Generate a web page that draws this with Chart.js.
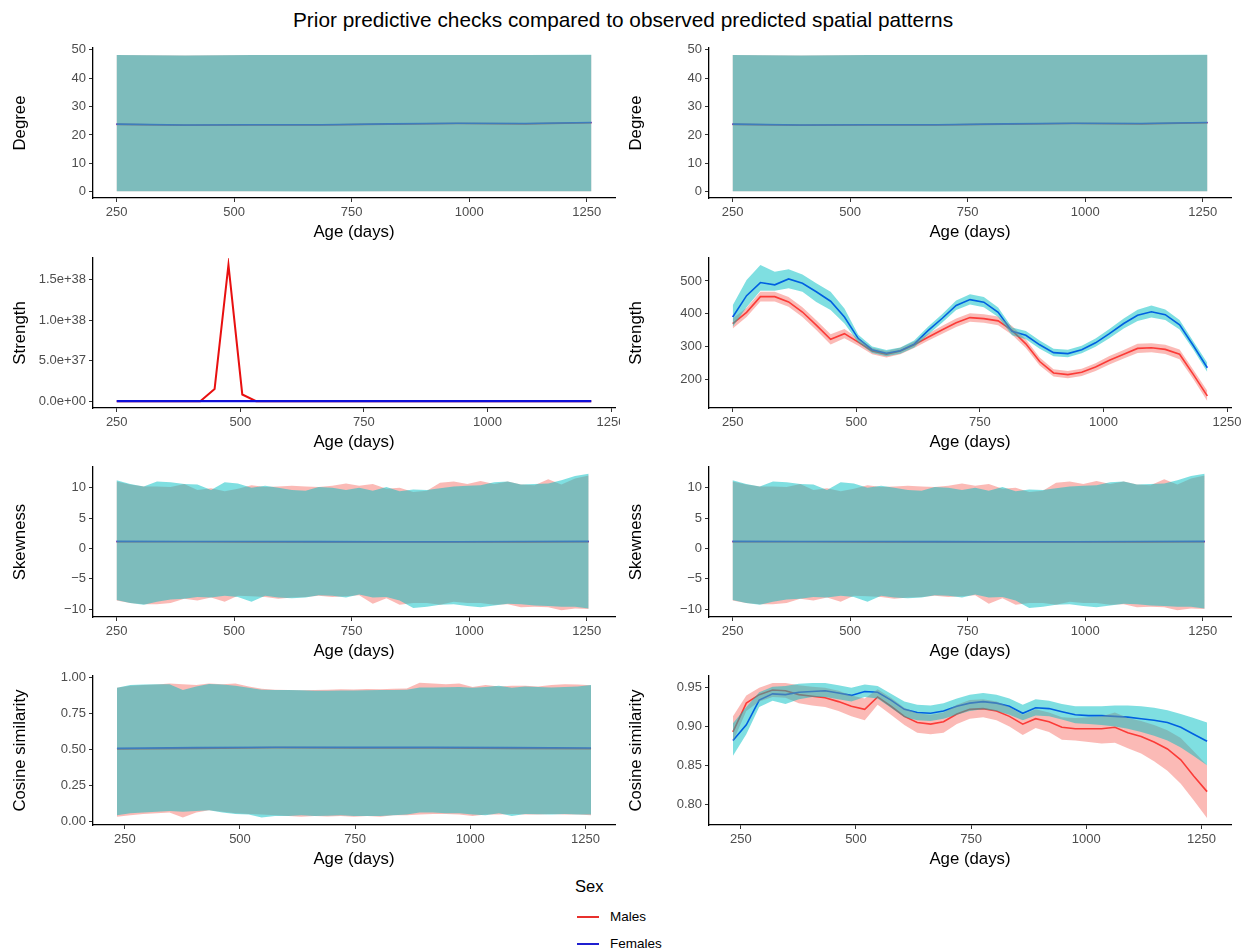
<!DOCTYPE html>
<html>
<head>
<meta charset="utf-8">
<script src="https://cdn.jsdelivr.net/npm/chart.js@4.4.1/dist/chart.umd.min.js"></script>
<style>
  body { margin: 0; background: #fff; width: 1246px; height: 951px; position: relative; overflow: hidden;
         font-family: "Liberation Sans", Arial, sans-serif; }
  canvas { position: absolute; }
  #title { position: absolute; top: 8px; left: 0; width: 1246px; text-align: center; font-size: 20.8px; color: #000; }
  .leg { position: absolute; color: #000; }
  .key { position: absolute; height: 2px; width: 22px; }
</style>
</head>
<body>
<div id="title">Prior predictive checks compared to observed predicted spatial patterns</div>

<canvas id="degPrior"></canvas>
<canvas id="degObs"></canvas>
<canvas id="strPrior"></canvas>
<canvas id="strObs"></canvas>
<canvas id="skPrior"></canvas>
<canvas id="skObs"></canvas>
<canvas id="cosPrior"></canvas>
<canvas id="cosObs"></canvas>

<div class="leg" style="left:575px;top:877px;font-size:16.5px">Sex</div>
<div class="key" style="left:577px;top:916px;background:#e8302c"></div>
<div class="leg" style="left:610px;top:909px;font-size:13.5px">Males</div>
<div class="key" style="left:577px;top:943px;background:#1f1fd0"></div>
<div class="leg" style="left:610px;top:936px;font-size:13.5px">Females</div>

<script>
// ---- axis ticks ----
const ageTicks = [250, 500, 750, 1000, 1250]
const ageLabels = ['250', '500', '750', '1000', '1250']
const degTicks = [0, 10, 20, 30, 40, 50]
const degLabels = ['0', '10', '20', '30', '40', '50']
const strPriorTicks = [0, 5e37, 1e38, 1.5e38]
const strPriorLabels = ['0.0e+00', '5.0e+37', '1.0e+38', '1.5e+38']
const strObsTicks = [200, 300, 400, 500]
const strObsLabels = ['200', '300', '400', '500']
const skTicks = [-10, -5, 0, 5, 10]
const skLabels = ['\u221210', '\u22125', '0', '5', '10']
const cosPriorTicks = [0, 0.25, 0.5, 0.75, 1]
const cosPriorLabels = ['0.00', '0.25', '0.50', '0.75', '1.00']
const cosObsTicks = [0.8, 0.85, 0.9, 0.95]
const cosObsLabels = ['0.80', '0.85', '0.90', '0.95']

// ---- degree (same in both columns) ----
const degX = [250, 395, 540, 685, 830, 975, 1120, 1260]
const degMale = [23.7, 23.4, 23.5, 23.5, 23.8, 24.0, 23.9, 24.3]
const degFem = [23.8, 23.5, 23.6, 23.6, 23.9, 24.1, 24.0, 24.4]
const degMaleLo = [0.2, 0.2, 0.2, 0.2, 0.2, 0.2, 0.2, 0.2]
const degMaleHi = [48.1, 48.0, 48.1, 48.1, 48.1, 48.1, 48.1, 48.1]
const degFemLo = [0.2, 0.2, 0.2, 0.1, 0.2, 0.2, 0.2, 0.2]
const degFemHi = [48.1, 48.0, 48.1, 48.1, 48.1, 48.1, 48.1, 48.2]

// ---- strength ----
const strX = [250, 278, 306, 335, 363, 391, 419, 448, 476, 504, 532, 561, 589, 617, 645, 674, 702, 730,
  758, 787, 815, 843, 871, 899, 928, 956, 984, 1012, 1041, 1069, 1097, 1125, 1154, 1182, 1210]
const strPriorMale = [0, 0, 0, 0, 0, 0, 0, 1.52e37, 1.684e38, 8.3e36, 0, 0, 0, 0, 0, 0, 0, 0,
  0, 0, 0, 0, 0, 0, 0, 0, 0, 0, 0, 0, 0, 0, 0, 0, 0]
const strPriorFem = [0, 0, 0, 0, 0, 0, 0, 0, 0, 0, 0, 0, 0, 0, 0, 0, 0, 0,
  0, 0, 0, 0, 0, 0, 0, 0, 0, 0, 0, 0, 0, 0, 0, 0, 0]
const strFem = [390, 455, 495, 488, 506, 493, 467, 438, 390, 324, 290, 279, 287, 307, 348, 386, 425, 443,
  435, 404, 346, 334, 305, 281, 278, 290, 311, 339, 370, 395, 406, 397, 366, 302, 235]
const strFemLo = [360, 420, 470, 470, 478, 467, 436, 411, 370, 312, 280, 270, 278, 297, 336, 373, 411, 428,
  420, 390, 334, 322, 293, 270, 267, 279, 299, 325, 355, 378, 388, 381, 352, 290, 222]
const strFemHi = [426, 503, 549, 528, 536, 520, 493, 467, 416, 336, 300, 289, 297, 318, 360, 399, 440, 459,
  451, 419, 358, 347, 318, 293, 290, 302, 324, 353, 385, 412, 425, 413, 381, 315, 250]
const strMale = [370, 404, 452, 452, 436, 405, 365, 322, 339, 313, 286, 276, 286, 305, 328, 351, 372, 388,
  385, 378, 349, 308, 254, 219, 214, 221, 237, 258, 276, 294, 296, 291, 276, 214, 149]
const strMaleLo = [355, 390, 437, 437, 421, 390, 350, 306, 325, 302, 276, 266, 276, 295, 317, 339, 359, 375,
  372, 365, 336, 295, 242, 208, 203, 210, 225, 245, 263, 280, 282, 277, 261, 200, 133]
const strMaleHi = [385, 418, 467, 467, 451, 420, 380, 337, 353, 324, 296, 286, 296, 315, 339, 363, 385, 401,
  398, 391, 362, 321, 266, 230, 225, 232, 249, 271, 289, 308, 310, 305, 291, 228, 165]

// ---- skewness (same in both columns) ----
const skX = [250, 279, 308, 336, 365, 394, 422, 451, 480, 508, 537, 566, 594, 623, 652, 680, 709, 738,
  766, 795, 824, 852, 881, 910, 938, 967, 996, 1024, 1053, 1082, 1110, 1139, 1168, 1196, 1225, 1254]
const skFemHi = [11.2, 10.6, 10.2, 11.0, 10.9, 10.6, 10.5, 9.6, 10.9, 10.7, 10.0, 10.3, 10.0, 9.6, 9.5, 10.1, 10.0, 9.6,
  10.0, 9.5, 10.1, 9.4, 9.7, 9.6, 9.9, 10.2, 10.3, 10.4, 10.9, 11.0, 10.5, 10.6, 10.7, 11.2, 11.9, 12.3]
const skMaleHi = [11.0, 10.5, 10.2, 10.2, 10.1, 10.6, 9.6, 9.9, 9.4, 9.8, 10.4, 10.1, 10.2, 10.3, 10.2, 10.1, 10.3, 10.7,
  10.3, 10.6, 9.8, 10.0, 9.3, 9.5, 10.8, 11.0, 10.6, 11.1, 10.6, 11.0, 10.5, 10.4, 11.4, 10.5, 11.5, 12.0]
const skFemLo = [-8.5, -9.0, -9.3, -8.8, -8.4, -8.3, -8.0, -8.1, -7.8, -8.0, -8.8, -7.8, -8.1, -8.2, -8.1, -7.7, -7.8, -8.1,
  -7.6, -8.1, -8.0, -8.6, -9.8, -9.6, -9.3, -9.2, -9.5, -9.7, -9.4, -9.1, -9.2, -9.4, -9.5, -9.6, -9.6, -9.9]
const skMaleLo = [-8.6, -9.0, -9.2, -9.2, -9.0, -8.3, -8.6, -8.1, -8.8, -7.8, -7.9, -8.0, -8.3, -8.1, -8.0, -7.8, -8.0, -7.9,
  -7.7, -9.1, -8.2, -9.3, -9.0, -9.0, -9.3, -8.8, -9.0, -9.0, -9.3, -9.2, -9.7, -9.6, -9.7, -10.2, -9.9, -10.0]
const skLineX = [250, 395, 540, 685, 830, 975, 1120, 1254]
const skMale = [1.10, 1.08, 1.07, 1.06, 1.05, 1.05, 1.07, 1.10]
const skFem = [1.15, 1.13, 1.12, 1.11, 1.10, 1.10, 1.12, 1.15]

// ---- cosine similarity ----
const cosX = [233, 262, 290, 319, 347, 376, 405, 433, 462, 490, 519, 547, 576, 605, 633, 662, 690, 719, 747,
  776, 805, 833, 862, 890, 919, 947, 976, 1005, 1033, 1062, 1090, 1119, 1147, 1176, 1205, 1233, 1262]
const cosPriorFemHi = [.925, .945, .948, .950, .950, .910, .935, .952, .948, .940, .925, .912, .910, .910, .908, .905, .905, .906, .907,
  .908, .910, .910, .912, .928, .928, .929, .930, .925, .930, .940, .925, .935, .930, .928, .930, .935, .945]
const cosPriorMaleHi = [.925, .940, .945, .948, .955, .950, .945, .955, .950, .955, .935, .918, .912, .910, .908, .910, .912, .915, .913,
  .916, .915, .918, .920, .960, .955, .950, .955, .930, .945, .935, .940, .940, .935, .945, .950, .948, .942]
const cosPriorFemLo = [.040, .055, .060, .065, .070, .065, .070, .075, .060, .050, .045, .025, .035, .035, .040, .035, .038, .040, .036,
  .035, .036, .040, .045, .060, .060, .055, .055, .045, .040, .055, .035, .050, .048, .045, .050, .045, .045]
const cosPriorMaleLo = [.030, .040, .050, .055, .060, .025, .060, .075, .065, .055, .050, .045, .040, .035, .030, .035, .032, .035, .030,
  .035, .030, .040, .040, .045, .050, .050, .045, .035, .045, .045, .050, .045, .045, .050, .045, .045, .040]
const cosLineX = [233, 405, 576, 747, 919, 1090, 1262]
const cosPriorMale = [0.500, 0.505, 0.510, 0.508, 0.508, 0.505, 0.502]
const cosPriorFem = [0.505, 0.510, 0.513, 0.512, 0.512, 0.510, 0.507]

const cosFem = [.882, .902, .934, .942, .941, .944, .945, .946, .943, .940, .945, .944, .934, .922, .918, .917, .920, .926, .930,
  .932, .930, .926, .917, .924, .923, .919, .915, .914, .914, .913, .912, .910, .908, .905, .899, .890, .881]
const cosFemLo = [.862, .890, .925, .933, .929, .935, .938, .938, .935, .932, .938, .936, .924, .912, .908, .907, .910, .915, .920,
  .922, .920, .915, .908, .914, .913, .909, .904, .903, .902, .900, .897, .893, .888, .882, .873, .862, .850]
const cosFemHi = [.904, .925, .944, .951, .952, .955, .956, .956, .953, .950, .954, .952, .942, .932, .928, .927, .930, .936, .941,
  .943, .941, .936, .928, .935, .933, .929, .926, .926, .926, .927, .927, .926, .924, .921, .916, .911, .905]
const cosMale = [.893, .930, .941, .947, .946, .941, .939, .937, .932, .926, .922, .938, .926, .913, .905, .903, .906, .916, .922,
  .923, .920, .913, .903, .910, .906, .899, .897, .897, .897, .899, .892, .887, .880, .871, .857, .836, .816]
const cosMaleLo = [.880, .920, .932, .938, .937, .930, .927, .925, .920, .913, .908, .928, .915, .902, .892, .890, .892, .903, .910,
  .912, .908, .900, .889, .898, .893, .883, .882, .880, .878, .879, .872, .865, .855, .843, .826, .805, .782]
const cosMaleHi = [.913, .940, .950, .956, .956, .953, .951, .950, .946, .940, .936, .948, .937, .924, .917, .915, .918, .928, .934,
  .935, .932, .925, .915, .922, .918, .912, .911, .912, .913, .918, .911, .907, .902, .895, .885, .868, .850]

// colours
const RED = '#ff0000'
const BLUE = '#0000ff'
const PINK_FILL = 'rgba(248, 118, 109, 0.5)'
const CYAN_FILL = 'rgba(0, 191, 196, 0.5)'
const FONT = '"Liberation Sans", Arial, sans-serif'

// layout of the 4 x 2 grid (plot area top / bottom per row)
const ROWS = [[48, 198], [258, 408], [467, 617], [676, 825]]
const PAD_TOP = 12
const X_AXIS_H = 48
const Y_AXIS_W = 93

Chart.defaults.font.family = FONT

function pts(xs, ys) {
  return ys.map((v, i) => ({ x: xs[i], y: v }))
}

// lines go underneath the ribbons, ribbons are see-through (cyan on top)
function line(xs, ys, color, order, width) {
  return { data: pts(xs, ys), borderColor: color, borderWidth: width || 1.6, pointRadius: 0, fill: false, tension: 0, order: order }
}

function band(xs, lo, hi, color, order) {
  return [
    { data: pts(xs, lo), borderColor: 'transparent', borderWidth: 0, pointRadius: 0, fill: false, order: order },
    { data: pts(xs, hi), borderColor: 'transparent', borderWidth: 0, pointRadius: 0, fill: '-1', backgroundColor: color, order: order }
  ]
}

function makeChart(id, col, row, cfg) {
  const canvas = document.getElementById(id)
  const top = ROWS[row][0], bottom = ROWS[row][1]
  const width = col === 0 ? 620 : 630
  canvas.width = width
  canvas.height = PAD_TOP + (bottom - top) + X_AXIS_H
  canvas.style.left = (col === 0 ? 0 : 616) + 'px'
  canvas.style.top = (top - PAD_TOP) + 'px'

  const tickFont = { size: 13, family: FONT }
  const titleFont = { size: 16.8, family: FONT }

  new Chart(canvas.getContext('2d'), {
    type: 'line',
    data: { datasets: cfg.datasets },
    options: {
      responsive: false,
      animation: false,
      events: [],
      layout: { padding: { top: PAD_TOP, right: col === 0 ? 5 : 15, left: 0, bottom: 0 } },
      plugins: { legend: { display: false }, tooltip: { enabled: false } },
      scales: {
        x: {
          type: 'linear', bounds: 'data', min: cfg.xMin, max: cfg.xMax,
          border: { display: true, color: '#000', width: 1.3 },
          grid: { display: true, drawOnChartArea: false, drawTicks: true, tickLength: 4, color: '#333' },
          afterBuildTicks: s => { s.ticks = ageTicks.map(v => ({ value: v })) },
          afterFit: s => { s.height = X_AXIS_H; s.paddingLeft = 0; s.paddingRight = 0 },
          ticks: { autoSkip: false, maxRotation: 0, padding: 3, color: '#4d4d4d', font: tickFont,
                   callback: v => ageLabels[ageTicks.indexOf(v)] },
          title: { display: true, text: 'Age (days)', color: '#000', font: titleFont, padding: { top: 0, bottom: 4 } }
        },
        y: {
          type: 'linear', bounds: 'data', min: cfg.yMin, max: cfg.yMax,
          border: { display: true, color: '#000', width: 1.3 },
          grid: { display: true, drawOnChartArea: false, drawTicks: true, tickLength: 4, color: '#333' },
          afterBuildTicks: s => { s.ticks = cfg.yTicks.map(v => ({ value: v })) },
          afterFit: s => { s.width = Y_AXIS_W; s.paddingTop = 0; s.paddingBottom = 0 },
          ticks: { autoSkip: false, padding: 3, color: '#4d4d4d', font: tickFont,
                   callback: v => cfg.yLabels[cfg.yTicks.indexOf(v)] },
          title: { display: true, text: cfg.yTitle, color: '#000', font: titleFont, padding: { top: 10, bottom: 0 } }
        }
      }
    }
  })
}

function degreeSets() {
  return [
    line(degX, degMale, RED, 5),
    line(degX, degFem, BLUE, 4),
    ...band(degX, degMaleLo, degMaleHi, PINK_FILL, 2),
    ...band(degX, degFemLo, degFemHi, CYAN_FILL, 1)
  ]
}

function skewSets() {
  return [
    line(skLineX, skMale, RED, 5),
    line(skLineX, skFem, BLUE, 4),
    ...band(skX, skMaleLo, skMaleHi, PINK_FILL, 2),
    ...band(skX, skFemLo, skFemHi, CYAN_FILL, 1)
  ]
}

const degCfg = { xMin: 200, xMax: 1310, yMin: -2.2, yMax: 50.6, yTicks: degTicks, yLabels: degLabels, yTitle: 'Degree' }
makeChart('degPrior', 0, 0, Object.assign({ datasets: degreeSets() }, degCfg))
makeChart('degObs', 1, 0, Object.assign({ datasets: degreeSets() }, degCfg))

makeChart('strPrior', 0, 1, {
  datasets: [line(strX, strPriorMale, '#e81010', 5, 2), line(strX, strPriorFem, '#1010d8', 4, 2.2)],
  xMin: 202, xMax: 1258, yMin: -8.4e36, yMax: 1.768e38,
  yTicks: strPriorTicks, yLabels: strPriorLabels, yTitle: 'Strength'
})
makeChart('strObs', 1, 1, {
  datasets: [
    line(strX, strMale, RED, 5),
    line(strX, strFem, BLUE, 4),
    ...band(strX, strMaleLo, strMaleHi, PINK_FILL, 2),
    ...band(strX, strFemLo, strFemHi, CYAN_FILL, 1)
  ],
  xMin: 202, xMax: 1258, yMin: 112, yMax: 570,
  yTicks: strObsTicks, yLabels: strObsLabels, yTitle: 'Strength'
})

const skCfg = { xMin: 200, xMax: 1310, yMin: -11.3, yMax: 13.4, yTicks: skTicks, yLabels: skLabels, yTitle: 'Skewness' }
makeChart('skPrior', 0, 2, Object.assign({ datasets: skewSets() }, skCfg))
makeChart('skObs', 1, 2, Object.assign({ datasets: skewSets() }, skCfg))

makeChart('cosPrior', 0, 3, {
  datasets: [
    line(cosLineX, cosPriorMale, RED, 5),
    line(cosLineX, cosPriorFem, BLUE, 4),
    ...band(cosX, cosPriorMaleLo, cosPriorMaleHi, PINK_FILL, 2),
    ...band(cosX, cosPriorFemLo, cosPriorFemHi, CYAN_FILL, 1)
  ],
  xMin: 181, xMax: 1314, yMin: -0.027, yMax: 1.007,
  yTicks: cosPriorTicks, yLabels: cosPriorLabels, yTitle: 'Cosine similarity'
})
makeChart('cosObs', 1, 3, {
  datasets: [
    line(cosX, cosMale, RED, 5),
    line(cosX, cosFem, BLUE, 4),
    ...band(cosX, cosMaleLo, cosMaleHi, PINK_FILL, 2),
    ...band(cosX, cosFemLo, cosFemHi, CYAN_FILL, 1)
  ],
  xMin: 181, xMax: 1314, yMin: 0.773, yMax: 0.965,
  yTicks: cosObsTicks, yLabels: cosObsLabels, yTitle: 'Cosine similarity'
})
</script>
</body>
</html>
